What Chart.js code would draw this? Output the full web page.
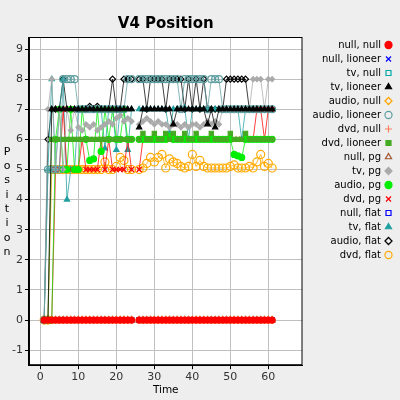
<!DOCTYPE html>
<html>
<head>
<meta charset="utf-8">
<script src="https://cdn.jsdelivr.net/npm/chart.js@4"></script>
<style>
  body { margin: 0; background: #eeeeee; }
  canvas { display: block; }
</style>
</head>
<body>
<canvas id="chart" width="400" height="400"></canvas>
<script>
// --- DATA ---
const times = [1,2,3,4,5,6,7,8,9,10, 11,12,13,14,15,16,17,18,19,20, 21,22,23,24,25,26,27,28,29,30,
  31,32,33,34,35,36,37,38,39,40, 41,42,43,44,45,46,47,48,49,50, 51,52,53,54,55,56,57,58,59,60, 61];
const xTicks = [0, 10, 20, 30, 40, 50, 60];
const yTicks = [-1, 0, 1, 2, 3, 4, 5, 6, 7, 8, 9];
const yLetters = ["P", "o", "s", "i", "t", "i", "o", "n"];

// the "null" pairs all sit on 0 (no sample at t=25)
const zeroPos = [0,0,0,0,0,0,0,0,0,0, 0,0,0,0,0,0,0,0,0,0, 0,0,0,0,null,0,0,0,0,0,
  0,0,0,0,0,0,0,0,0,0, 0,0,0,0,0,0,0,0,0,0, 0,0,0,0,0,0,0,0,0,0, 0];
const tvLioneer = [0,0,7,7,7,7,7,7,7,7, 7,7,7,7,7,7,7,7,7,7, 7,7,7,7,null,6.4,7,7,7,7,
  7,7,7,7,6.5,7,7,7,7,7, 7,7,7,6.5,7,6.4,7,7,7,7, 7,7,7,7,7,7,7,7,7,7, 7];
const audioLioneer = [0,5,5,5,5,8,8,8,8,7, 7,7,7,7,7,7,7,7,7,7, 7,7,8,8,null,8,8,8,8,8,
  8,8,8,8,8,8,7,8,8,8, 8,8,8,7,8,8,8,7,7,7, 7,7,7,7,7,7,7,7,7,7, 7];
const dvdLioneer = [0,0,6,6,6,6,6,6,6,6, 6,6,6,6,6,6,6,6,6,6, 6,6,6,6,null,6,6.2,6,6,6.2,
  6,6,6.2,6,6.2,6,6,6.2,6,6, 6.2,6,6,6,6.2,6,6,6,6,6.2, 6,6,6,6.2,6,6,6,6,6,6, 6];
const tvPg = [0,7,8,5,7,5,7,6.3,7,6.4, 6.3,6.5,6.4,6.5,6.3,6.4,6.5,6.6,6.5,6.7, 6.8,6.6,6.7,6.6,null,6.5,6.6,6.7,6.6,6.5,
  6.6,6.5,6.5,6.4,6.5,6.5,6.4,6.5,6.4,6.5, 6.5,6.4,6.5,6.6,6.5,6.6,6.5,7,7,7, 7,7,7,7,7,8,8,8,7,8, 8];
const audioPg = [0,0,0,6,7,5,5,7,5,5, 7,6,5.3,5.35,7,5.6,7,6,7,6, 6,7,6,6,null,6,6,6,6,6,
  6,6,6,6.1,6,6,6,6,6,6, 6,6,6,6,6,6,6,6,6,6, 5.5,5.45,5.4,6,6,6,6,6,6,6, 6];
const dvdPg = [0,0,0,5,5,7,5,5,5,5, 6,5,5,5,5,6,5,6,5,5, 5,5,6,5,null,5,6,6,6,6,
  6,6,6,6,6,6,6,6,6,6, 6,6,6,6,6,6,6,6,6,6, 6,6,6,6,6,6,7,7,6,7, 7];
const tvFlat = [0,5,8,5,7,8,4,5,5,7, 7,7,7,7,7,7,5.7,7,7,5.65, 7,7,5.65,7,null,7,7,7,7,7,
  7,7,7,6.2,7,7,7,7.05,6,7, 7,7,7,7,7,7,7,7,7,7, 7,7,6,7,7,7,7,7,7,7, 7];
const audioFlat = [0,6,7,7,7,8,7,7,7,7, 7,7,7.1,7,7.1,7,7,7,8,7, 7,8,8,8,null,8,8,7,8,8,
  8,8,7,8,8,8,8,7,8,7, 8,7,8,7,7,7,7,7,8,8, 8,8,8,8,7,7,7,7,7,7, 7];
const dvdFlat = [0,0,5,5,5,5,5,5,5,5, 5,5,5,5,5,5,5.25,5,5,5.1, 5.4,5.3,5,5,null,5,5.05,5.2,5.4,5.25,
  5.4,5.5,5.05,5.35,5.25,5.2,5.1,5.05,5.1,5.5, 5.1,5.3,5.1,5.05,5.05,5.05,5.05,5.05,5.05,5.1,
  5.15,5.05,5.05,5.05,5.1,5.05,5.25,5.5,5.1,5.2, 5.05];

// --- SERIES LOOK ---
const series = [
  { label: "null, null",     values: zeroPos,      color: "#ff0000", shape: "circle",   fill: true,  r: 3 },
  { label: "null, lioneer",  values: zeroPos,      color: "#0000ff", shape: "crossRot", fill: false, r: 3.5 },
  { label: "tv, null",       values: zeroPos,      color: "#00a8a8", shape: "rect",     fill: false, r: 3 },
  { label: "tv, lioneer",    values: tvLioneer,    color: "#000000", shape: "triangle", fill: true,  r: 3 },
  { label: "audio, null",    values: zeroPos,      color: "#ffa500", shape: "rectRot",  fill: false, r: 3 },
  { label: "audio, lioneer", values: audioLioneer, color: "#5f9ea0", shape: "circle",   fill: false, r: 3.5 },
  { label: "dvd, null",      values: zeroPos,      color: "#ff8060", shape: "cross",    fill: false, r: 3.5 },
  { label: "dvd, lioneer",   values: dvdLioneer,   color: "#44aa22", shape: "rect",     fill: true,  r: 3 },
  { label: "null, pg",       values: zeroPos,      color: "#a0522d", shape: "triangle", fill: false, r: 3.5 },
  { label: "tv, pg",         values: tvPg,         color: "#aaaaaa", shape: "rectRot",  fill: true,  r: 2.5 },
  { label: "audio, pg",      values: audioPg,      color: "#00ee00", shape: "circle",   fill: true,  r: 3 },
  { label: "dvd, pg",        values: dvdPg,        color: "#ff0000", shape: "crossRot", fill: false, r: 3.5 },
  { label: "null, flat",     values: zeroPos,      color: "#0000ff", shape: "rect",     fill: false, r: 3 },
  { label: "tv, flat",       values: tvFlat,       color: "#20a0a0", shape: "triangle", fill: true,  r: 3 },
  { label: "audio, flat",    values: audioFlat,    color: "#000000", shape: "rectRot",  fill: false, r: 3 },
  { label: "dvd, flat",      values: dvdFlat,      color: "#ffaa00", shape: "circle",   fill: false, r: 4 }
];

function fade(hex, a) {
  const n = parseInt(hex.slice(1), 16);
  return `rgba(${n >> 16},${(n >> 8) & 255},${n & 255},${a})`;
}

const datasets = series.map(s => ({
  label: s.label,
  data: times.map((t, i) => ({ x: t, y: s.values[i] })),
  borderColor: fade(s.color, 0.75),
  borderWidth: 1,
  pointStyle: s.shape,
  pointRadius: s.r,
  pointBorderColor: s.color,
  pointBackgroundColor: s.fill ? s.color : "transparent",
  pointBorderWidth: 1.2,
  spanGaps: false,
  tension: 0
}));

// --- PLUGINS ---
const backdrop = {
  id: "backdrop",
  beforeDraw(chart) {
    const { ctx, chartArea: a } = chart;
    ctx.save();
    ctx.fillStyle = "#eeeeee";
    ctx.fillRect(0, 0, chart.width, chart.height);
    ctx.fillStyle = "#ffffff";
    ctx.fillRect(a.left, a.top, a.right - a.left, a.bottom - a.top);
    ctx.restore();
  },
  afterDraw(chart) {
    const { ctx, chartArea: a } = chart;
    ctx.save();
    ctx.strokeStyle = "#000";
    ctx.lineWidth = 1;
    ctx.strokeRect(a.left + 0.5, a.top + 0.5, a.right - a.left - 1, a.bottom - a.top - 1);
    // stacked y-axis title
    ctx.fillStyle = "#000";
    ctx.font = "11px 'DejaVu Sans'";
    ctx.textAlign = "center";
    ctx.textBaseline = "middle";
    yLetters.forEach((c, i) => ctx.fillText(c, 7, 152 + i * 14.3));
    ctx.restore();
  }
};

new Chart(document.getElementById("chart"), {
  type: "line",
  data: { datasets },
  plugins: [backdrop],
  options: {
    responsive: false,
    animation: false,
    devicePixelRatio: 1,
    layout: { padding: { left: 10, top: 3, right: 5, bottom: 3 } },
    scales: {
      x: {
        type: "linear",
        min: -3,
        max: 69,
        afterBuildTicks: s => { s.ticks = xTicks.map(v => ({ value: v })); },
        grid: { color: "#c0c0c0", tickColor: "#000", tickLength: 4 },
        border: { color: "#000" },
        ticks: { color: "#333", font: { family: "DejaVu Sans", size: 11 }, padding: 1 },
        title: { display: true, text: "Time", color: "#000", font: { family: "DejaVu Sans", size: 10.5 }, padding: { top: 0, bottom: 0 } }
      },
      y: {
        min: -1.5,
        max: 9.4,
        afterBuildTicks: s => { s.ticks = yTicks.map(v => ({ value: v })); },
        grid: { color: "#c0c0c0", tickColor: "#000", tickLength: 4 },
        border: { color: "#000" },
        ticks: { color: "#333", font: { family: "DejaVu Sans", size: 11 }, padding: 2 }
      }
    },
    plugins: {
      title: {
        display: true,
        text: "V4 Position",
        fullSize: false,
        color: "#000",
        font: { family: "DejaVu Sans", size: 15, weight: "bold" },
        padding: { top: 12, bottom: 4 }
      },
      legend: {
        position: "right",
        align: "start",
        rtl: true,
        title: { display: true, text: " ", font: { size: 10 }, padding: { top: 21, bottom: 0 } },
        labels: {
          usePointStyle: true,
          boxWidth: 5,
          boxHeight: 5,
          padding: 4,
          color: "#000",
          font: { family: "DejaVu Sans", size: 10 }
        }
      },
      tooltip: { enabled: false }
    }
  }
});
</script>
</body>
</html>
